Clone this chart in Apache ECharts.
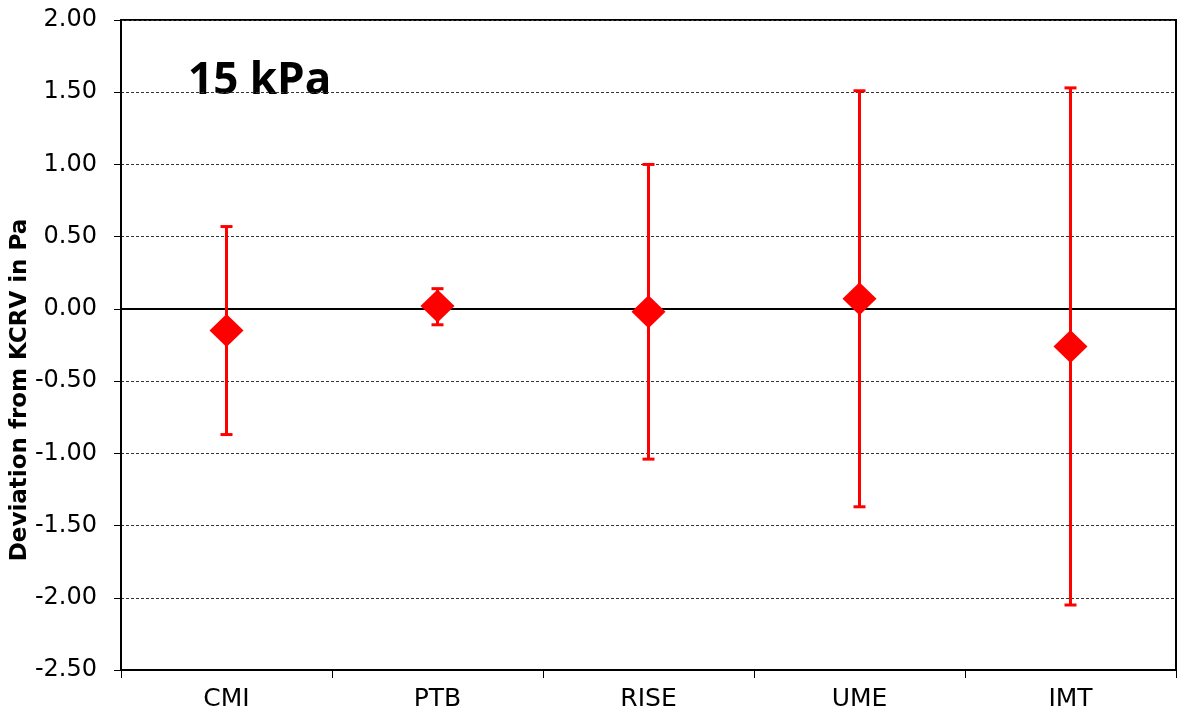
<!DOCTYPE html>
<html>
<head>
<meta charset="utf-8">
<script src="https://cdn.jsdelivr.net/npm/echarts@6/dist/echarts.min.js"></script>
<style>
  html, body { margin: 0; padding: 0; background: #fff; }
  #chart { width: 1178px; height: 715px; }
</style>
</head>
<body>
<div id="chart"></div>
<script>
// labs and their deviation from KCRV (Pa), with error bar ends
const labs = ['CMI', 'PTB', 'RISE', 'UME', 'IMT']
const deviation = [-0.15, 0.02, -0.02, 0.07, -0.26]
const errLow = [-0.87, -0.11, -1.04, -1.37, -2.05]
const errHigh = [0.57, 0.14, 1.00, 1.51, 1.53]

const errData = labs.map((l, i) => [i, errLow[i], errHigh[i]])

const myChart = echarts.init(document.getElementById('chart'))
const option = {
  animation: false,
  grid: {
    left: 121,
    right: 2,
    top: 20,
    bottom: 45,
    show: true,
    borderColor: '#000',
    borderWidth: 2,
    backgroundColor: '#fff'
  },
  graphic: [
    {
      type: 'text',
      left: 188,
      top: 59,
      style: {
        text: '15 kPa',
        font: 'bold 44px "Open Sans", sans-serif',
        fill: '#000'
      }
    },
    {
      type: 'text',
      x: 20,
      y: 390,
      rotation: Math.PI / 2,
      style: {
        text: 'Deviation from KCRV in Pa',
        font: 'bold 23px "DejaVu Sans", sans-serif',
        fill: '#000',
        align: 'center',
        verticalAlign: 'middle'
      }
    }
  ],
  xAxis: {
    type: 'category',
    data: labs,
    boundaryGap: true,
    axisLine: { onZero: false, lineStyle: { color: '#000', width: 2 } },
    axisTick: { show: true, length: 8, lineStyle: { color: '#000', width: 1 } },
    axisLabel: {
      color: '#000',
      fontFamily: 'DejaVu Sans',
      fontSize: 25,
      margin: 17
    },
    splitLine: { show: false }
  },
  yAxis: {
    type: 'value',
    min: -2.5,
    max: 2,
    interval: 0.5,
    axisLine: { show: true, lineStyle: { color: '#000', width: 2 } },
    axisTick: { show: true, length: 7, lineStyle: { color: '#000', width: 1 } },
    axisLabel: {
      color: '#000',
      fontFamily: 'DejaVu Sans',
      fontSize: 24,
      margin: 24,
      formatter: v => v.toFixed(2)
    },
    splitLine: { show: true, lineStyle: { color: '#333', width: 1, type: [3, 2] } }
  },
  series: [
    {
      type: 'custom',
      data: errData,
      z: 3,
      renderItem: function (params, api) {
        const x = api.value(0)
        const lo = api.coord([x, api.value(1)])
        const hi = api.coord([x, api.value(2)])
        const cap = 6
        const style = { stroke: '#ff0000', lineWidth: 3 }
        return {
          type: 'group',
          children: [
            { type: 'line', shape: { x1: lo[0], y1: lo[1], x2: hi[0], y2: hi[1] }, style: style },
            { type: 'line', shape: { x1: hi[0] - cap, y1: hi[1], x2: hi[0] + cap, y2: hi[1] }, style: style },
            { type: 'line', shape: { x1: lo[0] - cap, y1: lo[1], x2: lo[0] + cap, y2: lo[1] }, style: style }
          ]
        }
      }
    },
    {
      type: 'scatter',
      data: deviation,
      symbol: 'diamond',
      symbolSize: [34, 33],
      itemStyle: { color: '#ff0000', opacity: 1 },
      z: 4,
      markLine: {
        silent: true,
        symbol: 'none',
        label: { show: false },
        lineStyle: { color: '#000', width: 2, type: 'solid' },
        data: [{ yAxis: 0 }],
        z: 2
      }
    }
  ]
}
myChart.setOption(option)
</script>
</body>
</html>
